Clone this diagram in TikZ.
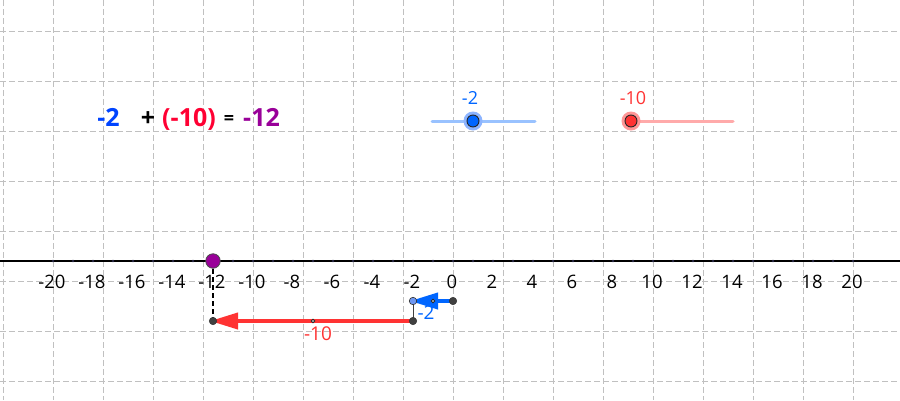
\documentclass[tikz,border=0pt]{standalone}
\usepackage{fontspec}
\setmainfont{Open Sans}
\usetikzlibrary{arrows.meta}
\definecolor{gridc}{RGB}{192,192,192}
\definecolor{vblue}{RGB}{0,102,255}
\definecolor{eqblue}{RGB}{0,68,255}
\definecolor{vred}{RGB}{255,51,51}
\definecolor{eqred}{RGB}{255,0,51}
\definecolor{vpurple}{RGB}{153,0,153}
\definecolor{slblue}{RGB}{153,194,255}
\definecolor{slred}{RGB}{255,170,170}
\definecolor{haloblue}{RGB}{140,180,255}
\definecolor{halored}{RGB}{255,150,150}
\definecolor{ptgray}{RGB}{64,64,64}
\definecolor{ptlight}{RGB}{110,150,240}
\definecolor{tickc}{RGB}{40,40,70}
\tikzset{
  gridline/.style={gridc, line width=1pt, dash pattern=on 6pt off 3pt},
  axisline/.style={black, line width=1.2pt},
  axlabel/.style={inner sep=0pt, font=\fontsize{18.5}{22}\selectfont},
  vlabel/.style={inner sep=0pt, font=\fontsize{19}{22}\selectfont},
  sllabel/.style={inner sep=0pt, font=\fontsize{18}{22}\selectfont},
  eqtext/.style={inner sep=0pt, anchor=base, font=\fontsize{25}{30}\selectfont\bfseries},
  vecend/.style={circle, inner sep=0pt, minimum size=7.5pt, fill=ptgray, draw=black!80, line width=0.5pt},
  vecstart/.style={circle, inner sep=0pt, minimum size=7.5pt, fill=ptlight, draw=black!80, line width=0.6pt},
  midpt/.style={circle, inner sep=0pt, minimum size=3.6pt, fill=white!70!black, draw=black!85, line width=0.7pt},
  bigpt/.style={circle, inner sep=0pt, minimum size=14.5pt, draw=black!70, line width=0.8pt},
  sliderpt/.style={circle, inner sep=0pt, minimum size=12pt, draw=black!85, line width=0.9pt},
  halo/.style={circle, inner sep=0pt, minimum size=19pt},
  vecline/.style={line width=3.8pt, -{Triangle[length=28pt,width=16pt]}, shorten >=-3pt},
  sliderline/.style={line width=3pt, line cap=round}
}
\begin{document}
\begin{tikzpicture}[x=1pt,y=-1pt]
\useasboundingbox (0,0) rectangle (900,400);
\fill[white] (0,0) rectangle (900,400);
% grid
\foreach \i in {0,...,17} \draw[gridline] (3.3+50*\i,0) -- (3.3+50*\i,400);
\foreach \i in {0,...,7} \draw[gridline] (0,31.5+50*\i) -- (900,31.5+50*\i);
% axis
\coordinate (axL) at (0,261);
\coordinate (axR) at (900,261);
\draw[axisline] (axL) -- (axR);
\foreach \k in {-20,...,20} \fill[tickc] (453+20*\k,261) circle (1.4);
\foreach \k in {-20,-18,...,20} \node[axlabel] (ax\k) at (452+20*\k,282) {\k};
% equation
\node[eqtext, text=eqblue] (eqa) at (108.5,126.5) {-2};
\node[eqtext, text=black] (eqp) at (148,126.5) {+};
\node[eqtext, text=eqred] (eqb) at (189,126.5) {(-10)};
\node[inner sep=0pt, anchor=base, font=\fontsize{18}{20}\selectfont\bfseries] (eqe) at (229,124.5) {=};
\node[eqtext, text=vpurple] (eqc) at (261.5,126.5) {-12};
% sliders
\coordinate (sb1) at (432,121);
\coordinate (sb2) at (535,121);
\coordinate (sr1) at (631,121);
\coordinate (sr2) at (733,121);
\draw[sliderline, slblue] (sb1) -- (sb2);
\draw[sliderline, slred] (sr1) -- (sr2);
\node[halo, fill=haloblue] (hb) at (473,121) {};
\node[sliderpt, fill=vblue] (pb) at (473,121) {};
\node[halo, fill=halored] (hr) at (631,121) {};
\node[sliderpt, fill=vred] (pr) at (631,121) {};
\node[sllabel, text=vblue] (lsb) at (470,98) {-2};
\node[sllabel, text=vred] (lsr) at (633,98) {-10};
% vectors
\coordinate (O) at (453,301);
\coordinate (A) at (413,301);
\coordinate (B) at (413,321);
\coordinate (C) at (213,321);
\coordinate (P) at (213,261);
\draw[black!75, line width=0.9pt] (A) -- (B);
\draw[black, line width=1.5pt, dash pattern=on 5pt off 3pt] (P) -- (C);
\draw[vecline, vblue] (O) -- (A);
\draw[vecline, vred] (B) -- (C);
\node[midpt] (mA) at (433,301) {};
\node[midpt] (mB) at (313,321) {};
\node[vecend] (pO) at (O) {};
\node[vecstart] (pA) at (A) {};
\node[vecend] (pB) at (B) {};
\node[vecend] (pC) at (C) {};
\node[bigpt, fill=vpurple] (pP) at (P) {};
\node[vlabel, text=vblue] (lA) at (426,313) {-2};
\node[vlabel, text=vred] (lB) at (318,334) {-10};
\end{tikzpicture}
\end{document}
